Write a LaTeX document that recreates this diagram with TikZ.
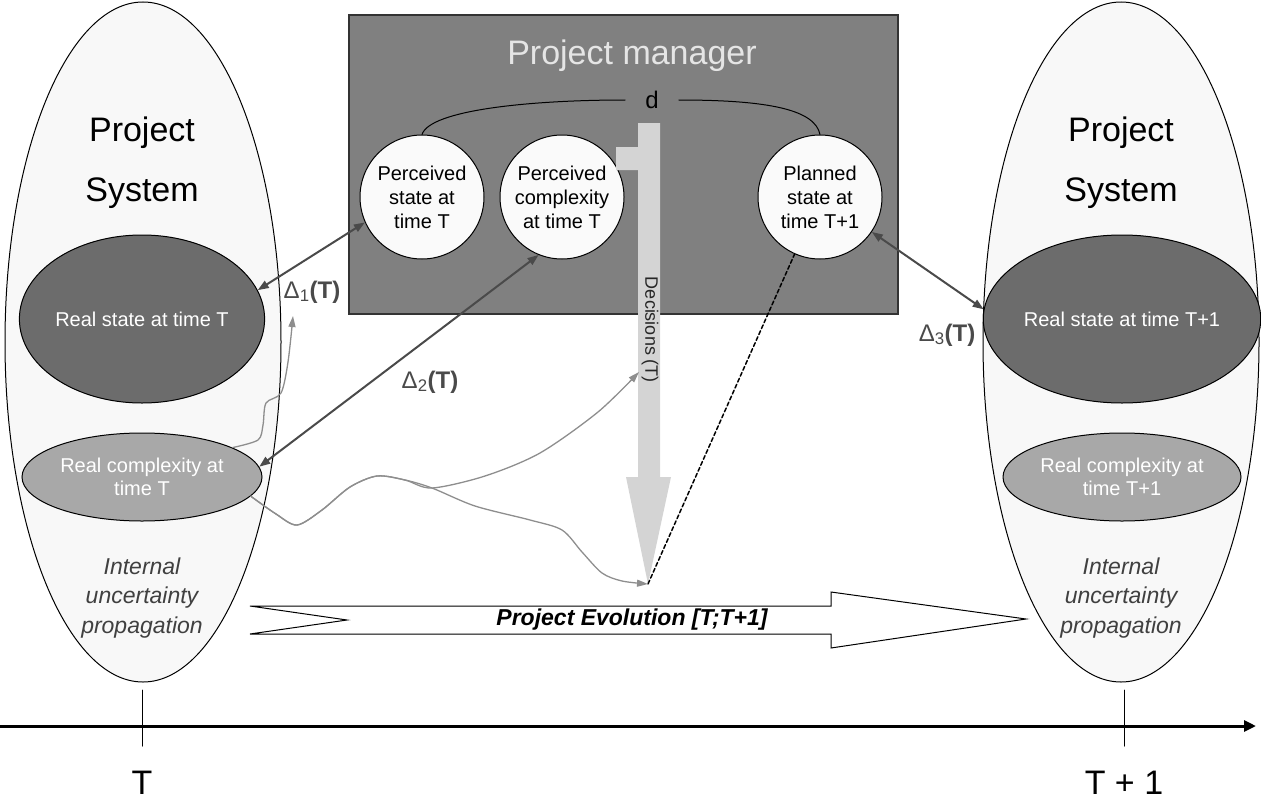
\documentclass[tikz,border=0pt]{standalone}
\usepackage{fontspec}
\setmainfont{Liberation Sans}
\usepackage{tikz}
\usetikzlibrary{arrows.meta, shapes.geometric}
\definecolor{pmGray}{HTML}{808080}
\definecolor{stateGray}{HTML}{6C6C6C}
\definecolor{complexGray}{HTML}{A8A8A8}
\definecolor{sysFill}{HTML}{F8F8F8}
\definecolor{decisionGray}{HTML}{D4D4D4}
\definecolor{deltaGray}{HTML}{4A4A4A}
\definecolor{wireGray}{HTML}{8E8E8E}
\tikzset{
	system/.style={ellipse, draw=black, line width=1pt, fill=sysFill, minimum width=276pt, minimum height=680pt, inner sep=0pt},
	realstate/.style={ellipse, draw=black, line width=1pt, fill=stateGray, minimum width=240pt, minimum height=168pt, inner sep=0pt, text=white, font=\fontsize{20}{23}\selectfont},
	realcomplex/.style={ellipse, draw=black, line width=1pt, fill=complexGray, minimum width=240pt, minimum height=88pt, inner sep=0pt, text=white, align=center, font=\fontsize{20}{23}\selectfont},
	perceived/.style={circle, draw=black, line width=1pt, fill=white!98!black, minimum size=124pt, inner sep=0pt, align=center, font=\fontsize{20}{24}\selectfont},
	systitle/.style={align=center, font=\fontsize{34}{60}\selectfont},
	internal/.style={align=center, text=black!75, font=\fontsize{23}{29.5}\selectfont\itshape},
	delta/.style={deltaGray, line width=2pt, {Triangle[length=11pt,width=8pt]}-{Triangle[length=11pt,width=8pt]}},
	deltalabel/.style={text=deltaGray, font=\fontsize{24}{26}\selectfont},
	wire/.style={wireGray, line width=1.3pt, -{Triangle[length=11pt,width=7pt]}},
	timelabel/.style={anchor=base, inner sep=0pt, font=\fontsize{34}{38}\selectfont},
}

\begin{document}
\begin{tikzpicture}[x=1pt, y=-1pt, line cap=round]
	\useasboundingbox (0,0) rectangle (1261,803);

	% project systems at T and T+1
	\node[system] (sysT) at (143,342) {};
	\node[system] (sysU) at (1121,342) {};
	\node[systitle] (titleT) at (142,163) {Project\\System};
	\node[systitle] (titleU) at (1121,163) {Project\\System};
	\node[realstate] (rsT) at (142,319) {Real state at time T};
	\node[realstate, minimum width=236pt] (rsU) at (1122,319) {Real state at time T+1};
	\node[realcomplex] (rcT) at (142,477) {Real complexity at\\time T};
	\node[realcomplex, minimum width=238pt] (rcU) at (1122,477) {Real complexity at\\time T+1};
	\node[internal] (intT) at (142,598) {Internal\\uncertainty\\propagation};
	\node[internal] (intU) at (1121,598) {Internal\\uncertainty\\propagation};

	% project manager
	\node[draw=black!80, line width=1.5pt, fill=pmGray, anchor=north west, minimum width=549pt, minimum height=299pt, inner sep=0pt] (pm) at (348,14) {};
	\node[text=white!90!black, font=\fontsize{34}{40}\selectfont] (pmtitle) at (632,56) {Project manager};
	\node[perceived] (pst) at (422,197) {Perceived\\state at\\time T};
	\node[perceived] (pct) at (562,197) {Perceived\\complexity\\at time T};
	\node[perceived] (pln) at (820,197) {Planned\\state at\\time T+1};
	\node[font=\fontsize{24}{26}\selectfont, inner xsep=20pt, inner ysep=0pt] (d) at (652,100) {d};
	\draw[line width=1pt] (pst.north) .. controls (430,110) and (530,100) .. (d.west);
	\draw[line width=1pt] (d.east) .. controls (770,100) and (815,110) .. (pln.north);

	% decisions
	\coordinate (dtip) at (648,584);
	\coordinate (dmid) at (639,372);
	\fill[decisionGray] (616,147) -- (638,147) -- (638,123) -- (660,123) -- (660,477) -- (671,477) -- (dtip) -- (626,477) -- (638,477) -- (638,170) -- (616,170) -- cycle;
	\node[rotate=-90, text=black!85, font=\fontsize{18}{20}\selectfont] (dec) at (650,330) {Decisions (T)};

	% gaps
	\draw[delta] (rsT.14) -- (pst.204);
	\draw[delta] (rcT.5) -- (pct.248);
	\draw[delta] (pln.-34) -- (rsU.176);
	\node[deltalabel] (d1) at (312,292) {Δ\textsubscript{1}\textbf{(T)}};
	\node[deltalabel] (d2) at (430,382) {Δ\textsubscript{2}\textbf{(T)}};
	\node[deltalabel] (d3) at (947,335) {Δ\textsubscript{3}\textbf{(T)}};
	\draw[black, line width=1.5pt, dash pattern=on 4pt off 2.5pt] (dtip) -- (pln.246);

	% uncertainty propagation
	\coordinate (up1) at (293,316);
	\draw[wire] plot[smooth, tension=0.5] coordinates {(rcT.18) (258,440) (263,425) (266,403) (281,393) (288,362) (up1)};
	\draw[wire] plot[smooth, tension=0.5] coordinates {(rcT.-10) (276,514) (297,525) (322,510) (350,487) (377,476) (405,480) (432,488) (485,476) (540,453) (598,412) (dmid)};
	\draw[wire] plot[smooth, tension=0.5] coordinates {(rcT.-10) (276,514) (297,525) (322,510) (350,487) (377,476) (405,480) (432,488) (475,506) (530,520) (562,530) (582,552) (602,573) (622,581) (dtip)};

	% project evolution
	\draw[line width=1pt, fill=white] (250,606) -- (831,606) -- (831,592) -- (1026,619) -- (831,648) -- (831,634) -- (250,634) -- (347,620) -- cycle;
	\node[font=\fontsize{23}{26}\selectfont\bfseries\itshape] (evo) at (632,620) {Project Evolution [T;T+1]};

	% time axis
	\coordinate (t0) at (0,726);
	\coordinate (t1) at (1256,726);
	\draw[line width=3pt, -{Triangle[length=12pt,width=11pt]}] (t0) -- (t1);
	\draw[line width=1pt] (142,690) -- (142,746);
	\draw[line width=1pt] (1124,690) -- (1124,746);
	\node[timelabel] (lT) at (142,794) {T};
	\node[timelabel] (lU) at (1124,794) {T + 1};

\end{tikzpicture}
\end{document}
